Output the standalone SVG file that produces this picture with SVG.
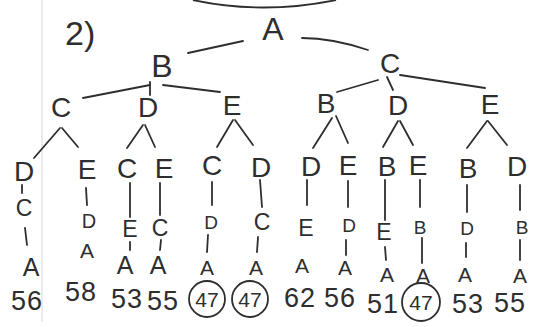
<svg xmlns="http://www.w3.org/2000/svg" width="540" height="327" viewBox="0 0 540 327">
<style>
text{font-family:"Liberation Sans","DejaVu Sans",sans-serif;fill:#2e2e2e;text-anchor:middle}
.l0{font-size:32px}
.l2{font-size:28px}
.l3{font-size:28px}
.l4{font-size:23px}
.l4s{font-size:19px}
.a{font-size:25px}
.as{font-size:21px}
.num{font-size:27px;letter-spacing:1px}
.c47{font-size:21px}
.cn line,.cn path{stroke:#2e2e2e;stroke-width:1.8;stroke-linecap:round;fill:none}
.ring{fill:none;stroke:#2e2e2e;stroke-width:1.8}
</style>
<rect width="540" height="327" fill="#ffffff"/>
<line x1="42" y1="0" x2="42" y2="322" stroke="#d6d6d6" stroke-width="1"/>
<path d="M193,0 Q263,15 336,0" fill="none" stroke="#2e2e2e" stroke-width="1.8"/>
<text x="65" y="45" style="font-size:34px;text-anchor:start">2)</text>

<g id="connectors" class="cn">
<line x1="188" y1="53" x2="243" y2="41"/>
<path d="M302,38 Q332,38 368,50"/>
<line x1="83" y1="98" x2="150" y2="85"/>
<line x1="150" y1="82" x2="150" y2="95"/>
<line x1="163" y1="85" x2="220" y2="92"/>
<line x1="337" y1="92" x2="378" y2="80"/>
<line x1="387" y1="77" x2="393" y2="90"/>
<line x1="400" y1="75" x2="485" y2="88"/>
<line x1="60" y1="128" x2="34" y2="158"/>
<line x1="62" y1="128" x2="78" y2="147"/>
<line x1="143" y1="125" x2="127" y2="148"/>
<line x1="145" y1="125" x2="155" y2="147"/>
<line x1="233" y1="120" x2="217" y2="147"/>
<line x1="235" y1="120" x2="253" y2="145"/>
<line x1="332" y1="118" x2="313" y2="148"/>
<line x1="336" y1="116" x2="348" y2="143"/>
<line x1="398" y1="121" x2="383" y2="147"/>
<line x1="400" y1="121" x2="413" y2="145"/>
<line x1="487" y1="121" x2="467" y2="148"/>
<line x1="488" y1="121" x2="507" y2="145"/>
<line x1="22" y1="185" x2="22" y2="193"/>
<line x1="25" y1="228" x2="27" y2="245"/>
<line x1="86" y1="188" x2="87" y2="205"/>
<line x1="130" y1="183" x2="130" y2="217"/>
<line x1="130" y1="242" x2="130" y2="250"/>
<line x1="160" y1="183" x2="160" y2="215"/>
<line x1="161" y1="240" x2="160" y2="250"/>
<line x1="212" y1="182" x2="212" y2="205"/>
<line x1="208" y1="235" x2="207" y2="252"/>
<line x1="260" y1="180" x2="262" y2="207"/>
<line x1="258" y1="237" x2="257" y2="252"/>
<line x1="307" y1="180" x2="307" y2="205"/>
<line x1="348" y1="181" x2="348" y2="207"/>
<line x1="346" y1="240" x2="346" y2="255"/>
<line x1="385" y1="180" x2="385" y2="220"/>
<line x1="385" y1="247" x2="386" y2="260"/>
<line x1="420" y1="180" x2="420" y2="207"/>
<line x1="422" y1="238" x2="422" y2="263"/>
<line x1="467" y1="185" x2="467" y2="212"/>
<line x1="466" y1="243" x2="466" y2="257"/>
<line x1="520" y1="185" x2="520" y2="210"/>
<line x1="520" y1="240" x2="520" y2="260"/>
</g>

<g id="n-A"><text class="l0" x="273" y="40">A</text></g>
<g id="n-AB"><text class="l0" x="162" y="77">B</text></g>
<g id="n-AC"><text class="l2" x="390" y="73">C</text></g>

<g id="n-ABC"><text class="l2" x="61" y="117">C</text></g>
<g id="n-ABD"><text class="l2" x="148" y="117">D</text></g>
<g id="n-ABE"><text class="l2" x="232" y="115">E</text></g>
<g id="n-ACB"><text class="l2" x="326" y="113">B</text></g>
<g id="n-ACD"><text class="l2" x="398" y="115">D</text></g>
<g id="n-ACE"><text class="l2" x="490" y="114">E</text></g>

<g id="n-ABCD"><text class="l3" x="24" y="181">D</text></g>
<g id="n-ABCE"><text class="l3" x="87" y="179">E</text></g>
<g id="n-ABDC"><text class="l3" x="127" y="178">C</text></g>
<g id="n-ABDE"><text class="l3" x="164" y="178">E</text></g>
<g id="n-ABEC"><text class="l3" x="212" y="175">C</text></g>
<g id="n-ABED"><text class="l3" x="261" y="177">D</text></g>
<g id="n-ACBD"><text class="l3" x="311" y="176">D</text></g>
<g id="n-ACBE"><text class="l3" x="348" y="175">E</text></g>
<g id="n-ACDB"><text class="l3" x="387" y="176">B</text></g>
<g id="n-ACDE"><text class="l3" x="418" y="175">E</text></g>
<g id="n-ACEB"><text class="l3" x="468" y="178">B</text></g>
<g id="n-ACED"><text class="l3" x="517" y="176">D</text></g>

<g id="n-ABCDC"><text class="l4" x="24" y="216">C</text></g>
<g id="n-ABCED"><text x="89" y="228" style="font-size:20px">D</text></g>
<g id="n-ABDCE"><text class="l4" x="130" y="237">E</text></g>
<g id="n-ABDEC"><text class="l4" x="160" y="236">C</text></g>
<g id="n-ABECD"><text class="l4s" x="211" y="229">D</text></g>
<g id="n-ABEDC"><text class="l4" x="262" y="230">C</text></g>
<g id="n-ACBDE"><text class="l4" x="306" y="236">E</text></g>
<g id="n-ACBED"><text class="l4s" x="349" y="232">D</text></g>
<g id="n-ACDBE"><text class="l4" x="384" y="240">E</text></g>
<g id="n-ACDEB"><text class="l4s" x="420" y="234">B</text></g>
<g id="n-ACEBD"><text class="l4s" x="467" y="235">D</text></g>
<g id="n-ACEDB"><text class="l4s" x="522" y="234">B</text></g>

<g id="leaf1"><text class="a" x="31" y="276">A</text><text class="num" x="27" y="310">56</text></g>
<g id="leaf2"><text class="as" x="87" y="258">A</text><text class="num" x="81" y="301">58</text></g>
<g id="leaf3"><text class="a" x="125" y="274">A</text><text class="num" x="127" y="308">53</text></g>
<g id="leaf4"><text class="a" x="158" y="274">A</text><text class="num" x="163" y="310">55</text></g>
<g id="leaf5"><text class="as" x="207" y="275">A</text><ellipse class="ring" cx="207" cy="299" rx="18" ry="18"/><text class="c47" x="207" y="307">47</text></g>
<g id="leaf6"><text class="as" x="256" y="275">A</text><ellipse class="ring" cx="250" cy="299" rx="18" ry="18"/><text class="c47" x="250" y="307">47</text></g>
<g id="leaf7"><text class="as" x="302" y="273">A</text><text class="num" x="300" y="307">62</text></g>
<g id="leaf8"><text class="as" x="345" y="275">A</text><text class="num" x="340" y="307">56</text></g>
<g id="leaf9"><text class="as" x="387" y="282">A</text><text class="num" x="383" y="313">51</text></g>
<g id="leaf10"><text class="as" x="423" y="283">A</text><ellipse class="ring" cx="421" cy="302" rx="19" ry="19"/><text class="c47" x="421" y="310">47</text></g>
<g id="leaf11"><text class="as" x="465" y="282">A</text><text class="num" x="468" y="313">53</text></g>
<g id="leaf12"><text class="as" x="520" y="283">A</text><text class="num" x="510" y="312">55</text></g>
</svg>
